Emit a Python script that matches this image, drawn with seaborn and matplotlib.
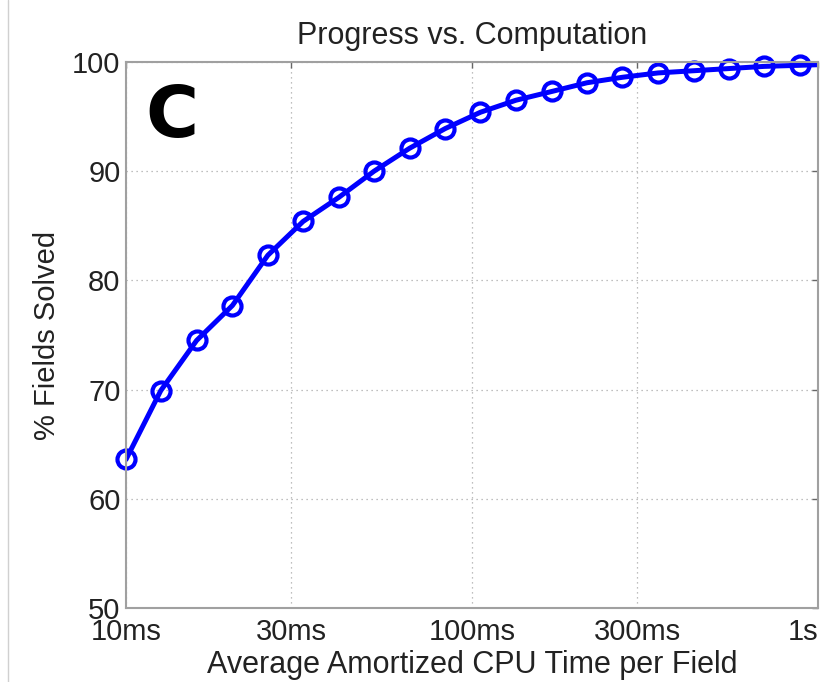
import numpy as np
import pandas as pd
import matplotlib
matplotlib.use("Agg")
import matplotlib.pyplot as plt
import seaborn as sns

# tiempo medio por campo (ms) y % resuelto
cpu_ms = [10, 12.6, 16.0, 20.3, 25.7, 32.5, 41.2, 52.1, 66.0, 83.6, 105.8,
          134, 170, 215, 272, 345, 437, 553, 700, 887, 1120]
solved = [63.6, 69.9, 74.5, 77.7, 82.3, 85.4, 87.6, 90.0, 92.1, 93.9, 95.4,
          96.5, 97.3, 98.1, 98.6, 99.0, 99.2, 99.4, 99.6, 99.7, 99.8]
xticks = [10, 30, 100, 300, 1000]
xtick_labels = ["10ms", "30ms", "100ms", "300ms", "1s"]
yticks = [50, 60, 70, 80, 90, 100]

df = pd.DataFrame({"cpu_ms": cpu_ms, "solved": solved})
n_marked = 20  # el ultimo punto queda fuera del eje (solo la linea)

sns.set_style("white")
plt.rcParams["font.family"] = ["Liberation Sans", "DejaVu Sans"]

fig = plt.figure(figsize=(8.24, 6.82), dpi=100)
ax = fig.add_axes([126/824, 1 - 608/682, (818-126)/824, (608-62)/682])

# linea (recortada en el borde)
sns.lineplot(data=df, x="cpu_ms", y="solved", color="#0000ff", linewidth=3.6,
             ax=ax, sort=False)
# marcadores (no recortados, como en matlab)
sns.lineplot(data=df.iloc[:n_marked], x="cpu_ms", y="solved", color="#0000ff",
             linestyle="", marker="o", markersize=13, markerfacecolor="none",
             markeredgecolor="#0000ff", markeredgewidth=3, clip_on=False,
             ax=ax, sort=False)

ax.set_xscale("log")
ax.set_xlim(10, 1000)
ax.set_ylim(50, 100)
ax.set_xticks(xticks)
ax.set_xticklabels(xtick_labels)
ax.xaxis.set_minor_locator(matplotlib.ticker.NullLocator())
ax.set_yticks(yticks)

ax.grid(True, linestyle=(0, (1, 3)), color="#aaaaaa", linewidth=0.9)
ax.tick_params(direction="in", length=4, width=1, color="#666666",
               top=True, right=True, labelsize=21, labelcolor="#222222")
ax.tick_params(axis="x", pad=7)
ax.tick_params(axis="y", pad=4)
ax.get_xticklabels()[-1].set_horizontalalignment("right")
for s in ax.spines.values():
    s.set_color("#a0a0a0")
    s.set_linewidth(1.5)

ax.set_title("Progress vs. Computation", fontsize=22, color="#222222", pad=13)
ax.set_xlabel("Average Amortized CPU Time per Field", fontsize=22,
              color="#222222", labelpad=3)
ax.set_ylabel("% Fields Solved", fontsize=21, color="#222222", labelpad=8)

ax.text(0.0658, 0.8626, "C", transform=ax.transAxes, fontsize=52,
        fontweight="bold", family="DejaVu Sans", ha="center", va="baseline",
        color="black")

# borde fino a la izquierda de la imagen
fig.add_artist(plt.Line2D([8/824, 8/824], [0, 1], transform=fig.transFigure,
                          color="#d0d0d0", linewidth=1))

plt.savefig("out.png", dpi=100)
